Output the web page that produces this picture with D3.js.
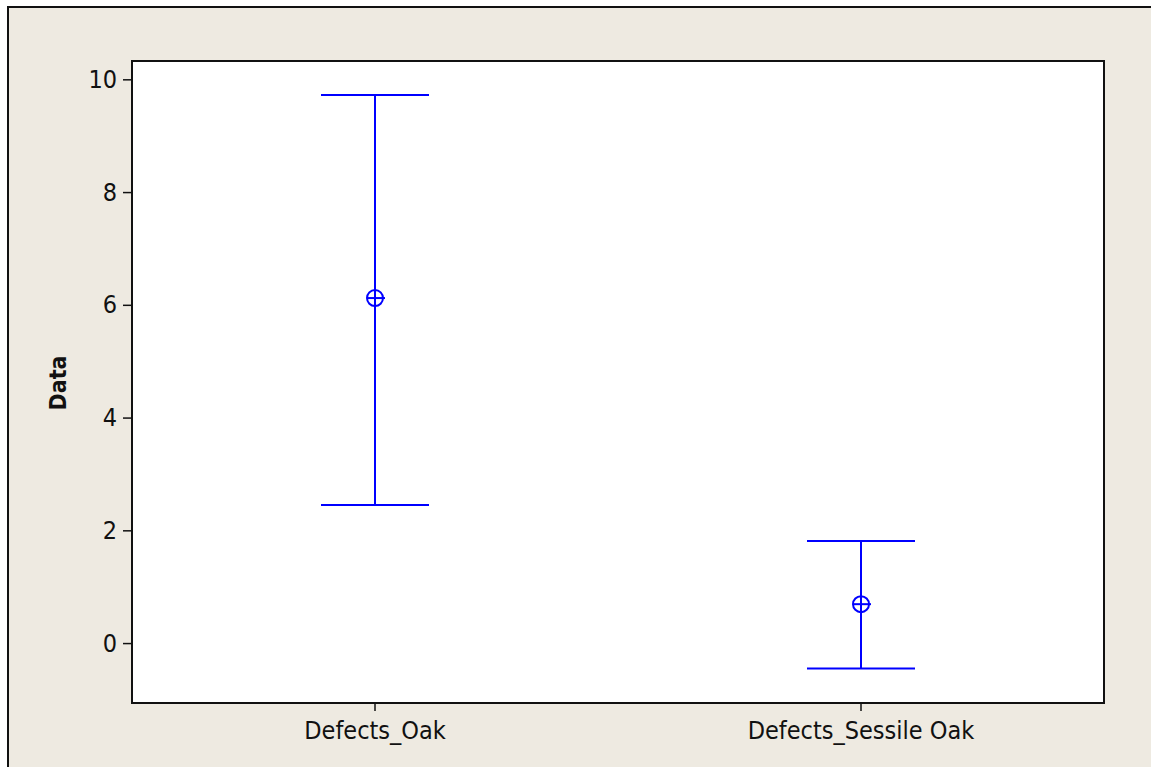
<!DOCTYPE html>
<html>
<head>
<meta charset="utf-8">
<script src="https://cdn.jsdelivr.net/npm/d3@7"></script>
<style>
  body { margin: 0; background: #fff; }
  svg text { font-family: "DejaVu Sans Condensed", "DejaVu Sans", sans-serif; font-stretch: condensed; }
</style>
</head>
<body>
<div id="chart"></div>
<script>
// interval plot values
const categories = ['Defects_Oak', 'Defects_Sessile Oak'];
const means = [6.12, 0.69];
const upper = [9.72, 1.81];
const lower = [2.45, -0.45];
const yTicks = [0, 2, 4, 6, 8, 10];

const W = 1151, H = 767;
const plot = { left: 132, top: 61, right: 1104, bottom: 703 };

const svg = d3.select('#chart').append('svg').attr('width', W).attr('height', H);

// outer frame (runs off the window on the right and bottom)
svg.append('rect')
  .attr('x', 8).attr('y', 7).attr('width', W + 20).attr('height', H + 20)
  .attr('fill', '#eeeae1').attr('stroke', '#111').attr('stroke-width', 2);

const x = d3.scaleBand().domain(categories).range([plot.left, plot.right]).padding(0);
const y = d3.scaleLinear().domain([-1.063, 10.325]).range([plot.bottom, plot.top]);

svg.append('rect')
  .attr('x', plot.left).attr('y', plot.top)
  .attr('width', plot.right - plot.left).attr('height', plot.bottom - plot.top)
  .attr('fill', '#fff').attr('stroke', '#111').attr('stroke-width', 2);

const yAxis = svg.append('g')
  .attr('transform', `translate(${plot.left},0)`)
  .call(d3.axisLeft(y).tickValues(yTicks).tickSize(9).tickPadding(6).tickFormat(d3.format('d')));
yAxis.select('.domain').remove();
yAxis.selectAll('line').attr('stroke', '#111').attr('stroke-width', 1.5);
yAxis.selectAll('text').attr('font-size', 25).attr('fill', '#111');

const xAxis = svg.append('g')
  .attr('transform', `translate(0,${plot.bottom})`)
  .call(d3.axisBottom(x).tickSize(8).tickPadding(10));
xAxis.select('.domain').remove();
xAxis.selectAll('line').attr('stroke', '#111').attr('stroke-width', 1.5);
xAxis.selectAll('text').attr('font-size', 25).attr('fill', '#111');

svg.append('text')
  .attr('transform', `translate(66,${(plot.top + plot.bottom) / 2 + 1}) rotate(-90)`)
  .attr('text-anchor', 'middle')
  .attr('font-size', 23).attr('font-weight', 'bold').attr('fill', '#111')
  .text('Data');

const capHalf = 54, r = 8;
const g = svg.append('g').attr('stroke', '#0000ff').attr('stroke-width', 2).attr('fill', 'none');

categories.forEach((c, i) => {
  const cx = x(c) + x.bandwidth() / 2;
  g.append('line').attr('x1', cx).attr('x2', cx).attr('y1', y(upper[i])).attr('y2', y(lower[i]));
  g.append('line').attr('x1', cx - capHalf).attr('x2', cx + capHalf).attr('y1', y(upper[i])).attr('y2', y(upper[i]));
  g.append('line').attr('x1', cx - capHalf).attr('x2', cx + capHalf).attr('y1', y(lower[i])).attr('y2', y(lower[i]));
  g.append('circle').attr('cx', cx).attr('cy', y(means[i])).attr('r', r);
  g.append('line').attr('x1', cx - r).attr('x2', cx + r + 2).attr('y1', y(means[i])).attr('y2', y(means[i]));
});
</script>
</body>
</html>
